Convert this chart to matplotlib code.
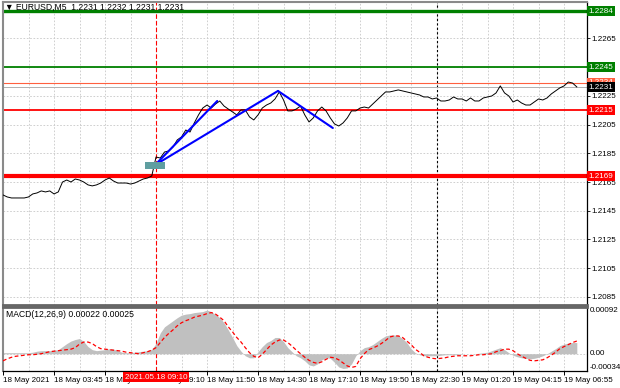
import matplotlib
matplotlib.use("Agg")
import matplotlib.pyplot as plt
import matplotlib.transforms as mtransforms
from matplotlib.patches import Rectangle
import numpy as np

# ---------------- data ----------------
title_text = "\u25bc EURUSD,M5  1.2231 1.2232 1.2231 1.2231"
macd_title = "MACD(12,26,9) 0.00022 0.00025"

# close price sampled at regular time steps
price = [
    1.21560, 1.21546, 1.21539, 1.21539, 1.21539, 1.21539, 1.21546, 1.21567, 1.21574, 1.21588,
    1.21581, 1.21588, 1.21567, 1.21581, 1.21650, 1.21664, 1.21650, 1.21671, 1.21664, 1.21650,
    1.21630, 1.21623, 1.21630, 1.21643, 1.21664, 1.21678, 1.21657, 1.21643, 1.21643, 1.21643,
    1.21636, 1.21643, 1.21657, 1.21671, 1.21678, 1.21692, 1.21824, 1.21817, 1.21859, 1.21866,
    1.21894, 1.21943, 1.21964, 1.22012, 1.21998, 1.22061, 1.22117, 1.22165, 1.22186, 1.22165,
    1.22193, 1.22214, 1.22179, 1.22158, 1.22138, 1.22117, 1.22152, 1.22152, 1.22103, 1.22082,
    1.22117, 1.22165, 1.22186, 1.22200, 1.22228, 1.22277, 1.22221, 1.22145, 1.22145, 1.22158,
    1.22179, 1.22117, 1.22068, 1.22096, 1.22145, 1.22172, 1.22145, 1.22096, 1.22054, 1.22040,
    1.22061, 1.22096, 1.22145, 1.22145, 1.22165, 1.22172, 1.22165, 1.22193, 1.22221, 1.22249,
    1.22277, 1.22277, 1.22284, 1.22291, 1.22284, 1.22277, 1.22270, 1.22263, 1.22256, 1.22242,
    1.22242, 1.22228, 1.22235, 1.22214, 1.22214, 1.22221, 1.22242, 1.22228, 1.22228, 1.22214,
    1.22235, 1.22214, 1.22214, 1.22235, 1.22242, 1.22249, 1.22270, 1.22319, 1.22270, 1.22249,
    1.22207, 1.22221, 1.22200, 1.22186, 1.22186, 1.22207, 1.22228, 1.22221, 1.22235, 1.22263,
    1.22284, 1.22305, 1.22319, 1.22346, 1.22339, 1.22312,
]

# MACD main (histogram) and signal, in units of 0.00001
macd_hist_pts = [
    2, 2, 2, 2, 2, 2, 2, 3, 5, 6,
    6, 6, 7, 8, 14, 20, 25, 28, 30, 24,
    14, 8, 6, 7, 8, 10, 9, 6, 3, 2,
    2, 3, 4, 5, 6, 9, 20, 41, 53, 59,
    65, 71, 76, 78, 79, 81, 82, 83, 86, 83,
    77, 71, 61, 47, 32, 16, 5, -4, -8, -8,
    4, 14, 22, 26, 32, 32, 24, 12, 4, -4,
    -8, -14, -22, -24, -20, -12, -8, -9, -17, -26,
    -29, -28, -20, -4, 6, 12, 14, 18, 24, 30,
    35, 37, 37, 36, 30, 22, 10, 2, -2, -4,
    -4, -4, -4, -3, -2, -2, -2, -2, 0, 0,
    0, 0, 1, 2, 3, 6, 9, 12, 8, 2,
    -3, -6, -8, -9, -10, -9, -7, -4, 0, 5,
    10, 16, 19, 21, 22, 22,
]
macd_signal_pts = [
    -14, -10, -7, -5, -4, -3, -2, -2, -1, 0,
    2, 4, 5, 6, 7, 8, 9, 12, 19, 23,
    23, 20, 14, 10, 9, 8, 7, 6, 5, 3,
    2, 1, 0, 2, 4, 7, 12, 22, 32, 40,
    47, 55, 61, 65, 68, 72, 74, 76, 79, 81,
    78, 72, 65, 53, 43, 32, 23, 12, 2, -5,
    -8, -1, 8, 17, 23, 27, 27, 22, 15, 7,
    0, -7, -13, -17, -19, -16, -11, -7, -8, -12,
    -18, -24, -27, -25, -10, 0, 8, 11, 15, 20,
    26, 33, 35, 35, 32, 25, 18, 9, 3, -4,
    -7, -9, -10, -9, -8, -6, -5, -4, -4, -4,
    -4, -3, -2, -2, -1, 0, 4, 6, 9, 9,
    6, 0, -5, -9, -13, -14, -13, -12, -8, -3,
    3, 10, 14, 18, 22, 25,
]

tick_idx = [0, 12, 24, 36, 48, 60, 72, 84, 96, 108, 120, 132]
tick_labels = ["18 May 2021", "18 May 03:45", "18 May 06:25", "18 May 09:10",
               "18 May 11:50", "18 May 14:30", "18 May 17:10", "18 May 19:50",
               "18 May 22:30", "19 May 01:20", "19 May 04:15", "19 May 06:55"]

signal_time_idx = 36            # 2021.05.18 09:10
signal_time_label = "2021.05.18 09:10"
separator_idx = 102             # day separator

# horizontal levels: (price, line colour, width, label colour)
levels = [
    (1.2284, "#008000", 2.4, "#008000"),
    (1.2245, "#008000", 1.3, "#008000"),
    (1.2234, "#ff6040", 0.8, "#ff6040"),
    (1.2215, "#ff0000", 1.3, "#ff0000"),
    (1.2169, "#ff0000", 3.0, "#ff0000"),
]
current_price = 1.2231

# trend lines drawn on the chart: (t0, p0, t1, p1)
trend_lines = [
    (35.8, 1.21769, 50.4, 1.22214),
    (35.8, 1.21769, 64.7, 1.22284),
    (64.7, 1.22284, 77.6, 1.22026),
]
entry_box = (33.4, 1.21741, 38.1, 1.21790)   # t0, p0, t1, p1

price_ticks = [1.2085, 1.2105, 1.2125, 1.2145, 1.2165, 1.2185, 1.2205, 1.2225, 1.2245, 1.2265, 1.2285]
price_tick_labels = ["1.2085", "1.2105", "1.2125", "1.2145", "1.2165", "1.2185", "1.2205",
                     "1.2225", "", "1.2265", ""]
price_lim = (1.20794, 1.22903)
macd_max = 0.00092
macd_min = -0.00034

# ---------------- drawing ----------------
FONT = ["Liberation Sans", "DejaVu Sans"]
plt.rcParams["font.family"] = FONT
FS = 5.8

W, H = 620, 388
fig = plt.figure(figsize=(W / 100, H / 100), dpi=100)
fig.patch.set_facecolor("white")
ax = fig.add_axes([3 / W, 1 - 305 / H, 584 / W, 303 / H])
axm = fig.add_axes([3 / W, 1 - 371 / H, 584 / W, 64 / H], sharex=ax)

t = np.arange(len(price))
xmax = 137.4
grid_col = "#c8c8c8"

for a in (ax, axm):
    a.set_xlim(0, xmax)
    for g in np.arange(6, xmax, 6):
        a.axvline(g, color=grid_col, lw=0.6, ls=(0, (2, 2)), zorder=0)
    a.axvline(signal_time_idx, color="#ff0000", lw=0.8, ls=(0, (4, 2)), zorder=1)
    a.axvline(separator_idx, color="#000000", lw=0.8, ls=(0, (2, 2)), zorder=1)
    a.spines["left"].set_color("#8a8a8a")
    a.spines["left"].set_linewidth(1.5)
    a.spines["right"].set_color("#000000")
    a.spines["right"].set_linewidth(0.9)

ax.spines["top"].set_color("#8a8a8a")
ax.spines["top"].set_linewidth(1.5)
ax.spines["bottom"].set_color("#666666")
ax.spines["bottom"].set_linewidth(2.0)
axm.spines["top"].set_color("#666666")
axm.spines["top"].set_linewidth(2.0)
axm.spines["bottom"].set_color("#000000")
axm.spines["bottom"].set_linewidth(0.9)

# ---- main panel ----
ax.set_ylim(*price_lim)
for p in price_ticks:
    ax.axhline(p, color=grid_col, lw=0.6, ls=(0, (2, 2)), zorder=0)

ax.plot(t, price, color="#000000", lw=0.7, zorder=3)

for p, c, lw, lc in levels:
    ax.axhline(p, color=c, lw=lw, zorder=2)
ax.axhline(current_price, color="#b0b0b0", lw=0.7, zorder=2)

for t0, p0, t1, p1 in trend_lines:
    ax.plot([t0, t1], [p0, p1], color="#0000ff", lw=1.5, zorder=4, solid_capstyle="round")
bt0, bp0, bt1, bp1 = entry_box
ax.add_patch(Rectangle((bt0, bp0), bt1 - bt0, bp1 - bp0, fc="#5f9ea0", ec="none", zorder=5))

ax.yaxis.tick_right()
ax.set_yticks(price_ticks)
ax.set_yticklabels(price_tick_labels)
ax.tick_params(axis="y", length=2, width=0.6, pad=1.5, labelsize=FS, colors="#000000")
ax.tick_params(axis="x", length=0, labelbottom=False)

trans_r = mtransforms.blended_transform_factory(ax.transAxes, ax.transData)
box_x = 1.0025
for p, c, lw, lc in levels:
    ax.text(box_x, p, f"{p:.4f}", transform=trans_r, ha="left", va="center", fontsize=FS,
            color="white", clip_on=False, zorder=10,
            bbox=dict(boxstyle="square,pad=0.18", fc=lc, ec="none"))
ax.text(box_x, current_price, f"{current_price:.4f}", transform=trans_r, ha="left", va="center",
        fontsize=FS, color="white", clip_on=False, zorder=11,
        bbox=dict(boxstyle="square,pad=0.18", fc="#000000", ec="none"))

ax.text(0.004, 0.981, title_text, transform=ax.transAxes, ha="left", va="center",
        fontsize=6.2, color="#000000", zorder=12, family=FONT)

# ---- MACD panel ----
hist = np.array(macd_hist_pts) * 1e-5
sig = np.array(macd_signal_pts) * 1e-5
axm.set_ylim(macd_min, macd_max)
axm.axhline(0, color=grid_col, lw=0.6, ls=(0, (2, 2)), zorder=0)
axm.fill_between(t, 0, hist, color="#c0c0c0", lw=0, zorder=2)
axm.plot(t, sig, color="#ff0000", lw=0.9, ls=(0, (3, 2)), zorder=3)

axm.set_yticks([])
trans_m = mtransforms.blended_transform_factory(axm.transAxes, axm.transData)
axm.text(box_x + 0.002, macd_max, "0.00092", transform=trans_m, ha="left", va="top",
         fontsize=FS, clip_on=False)
axm.text(box_x + 0.002, 0, "0.00", transform=trans_m, ha="left", va="center",
         fontsize=FS, clip_on=False)
axm.text(box_x + 0.002, macd_min, "-0.00034", transform=trans_m, ha="left", va="bottom",
         fontsize=FS, clip_on=False)
axm.text(0.005, 0.89, macd_title, transform=axm.transAxes, ha="left", va="center",
         fontsize=6.2, color="#000000")

axm.set_xticks(tick_idx)
axm.set_xticklabels(tick_labels, ha="left")
axm.tick_params(axis="x", length=3, width=0.7, pad=1.5, labelsize=FS, direction="out")

trans_x = mtransforms.blended_transform_factory(axm.transData, axm.transAxes)
axm.text(signal_time_idx, -0.04, signal_time_label, transform=trans_x, ha="center", va="top",
         fontsize=FS, color="white", clip_on=False, zorder=10,
         bbox=dict(boxstyle="square,pad=0.2", fc="#ff0000", ec="none"))

fig.savefig("out.png", dpi=100, facecolor="white")
